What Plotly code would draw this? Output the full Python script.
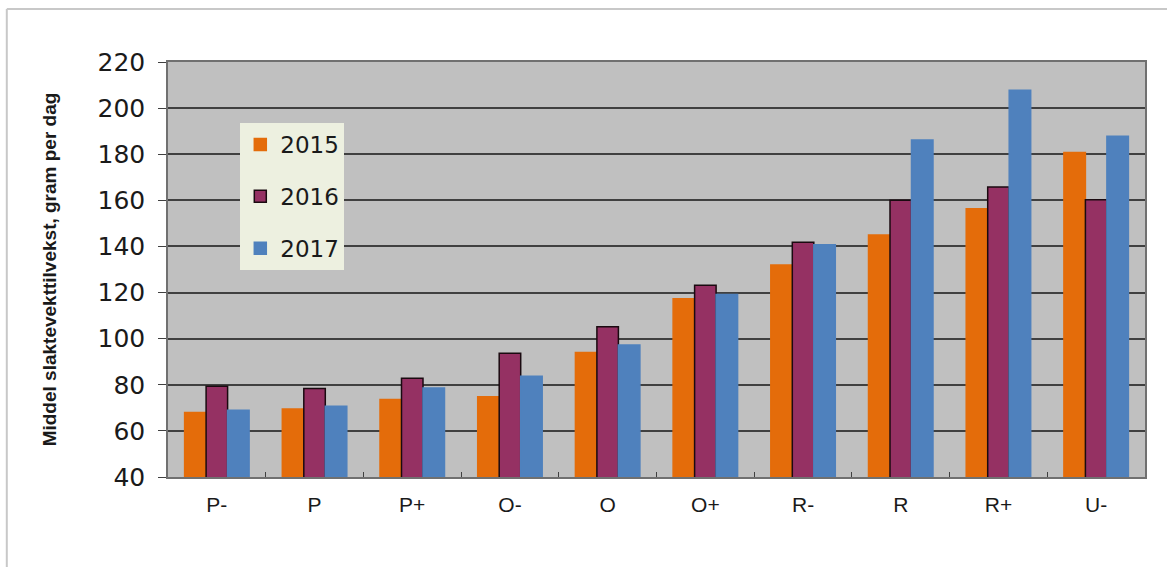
import plotly.graph_objects as go

kategorier = ["P-", "P", "P+", "O-", "O", "O+", "R-", "R", "R+", "U-"]
aar = ["2015", "2016", "2017"]
verdier_2015 = [68, 69.5, 73.6, 74.8, 94, 117.3, 132, 145, 156.3, 180.8]
verdier_2016 = [79.4, 78.4, 82.8, 93.7, 105.2, 123.2, 141.8, 160, 165.8, 160.3]
verdier_2017 = [69, 70.7, 78.6, 83.7, 97.2, 119.2, 140.7, 186.2, 207.8, 187.8]
farger = ["#E46C0A", "#953163", "#4F81BD"]
kanter = ["#E46C0A", "#1A0A10", "#4F81BD"]

fig = go.Figure()
for navn, verdier, farge, kant in zip(aar, [verdier_2015, verdier_2016, verdier_2017], farger, kanter):
    fig.add_trace(
        go.Bar(
            x=kategorier,
            y=verdier,
            name=navn,
            legendgroup=navn,
            marker=dict(color=farge, line=dict(color=kant, width=1.5)),
        )
    )

fig.update_layout(
    width=1167,
    height=567,
    margin=dict(l=168, r=22, t=62, b=90),
    paper_bgcolor="white",
    plot_bgcolor="#C0C0C0",
    font=dict(family="Liberation Sans, Arial", color="#1a1a1a"),
    barmode="group",
    bargap=0.34,
    bargroupgap=0,
    legend=dict(
        x=0.074,
        y=0.853,
        xanchor="left",
        yanchor="top",
        bgcolor="#EDF0E0",
        font=dict(size=23, family="DejaVu Sans"),
        tracegroupgap=19,
        borderwidth=0,
    ),
    showlegend=True,
)
fig.update_yaxes(
    range=[40, 220],
    dtick=20,
    tickfont=dict(size=25, family="DejaVu Sans"),
    ticks="outside",
    ticklen=8,
    tickcolor="#404040",
    ticklabelstandoff=8,
    showgrid=True,
    gridcolor="#404040",
    gridwidth=1.5,
    showline=True,
    linecolor="#707070",
    linewidth=1.5,
    mirror=True,
    title=dict(
        text="<b>Middel slaktevekttilvekst, gram per dag</b>",
        font=dict(size=19),
        standoff=36,
    ),
)
fig.update_xaxes(
    tickfont=dict(size=21),
    ticks="inside",
    tickson="boundaries",
    ticklen=5,
    tickcolor="#404040",
    ticklabelstandoff=8,
    showline=True,
    linecolor="#707070",
    linewidth=1.5,
    mirror=True,
)

# ramme rundt diagrammet
fig.add_shape(type="line", xref="paper", yref="paper", x0=-0.165, x1=1.03, y0=1.128, y1=1.128,
              line=dict(color="#C8C8C8", width=2))
fig.add_shape(type="line", xref="paper", yref="paper", x0=-0.165, x1=-0.165, y0=-0.22, y1=1.128,
              line=dict(color="#C8C8C8", width=2))

fig.write_html(
    "out.html",
    config={"displayModeBar": False},
    post_script="document.body.style.margin='0';document.body.style.overflow='hidden';",
)
